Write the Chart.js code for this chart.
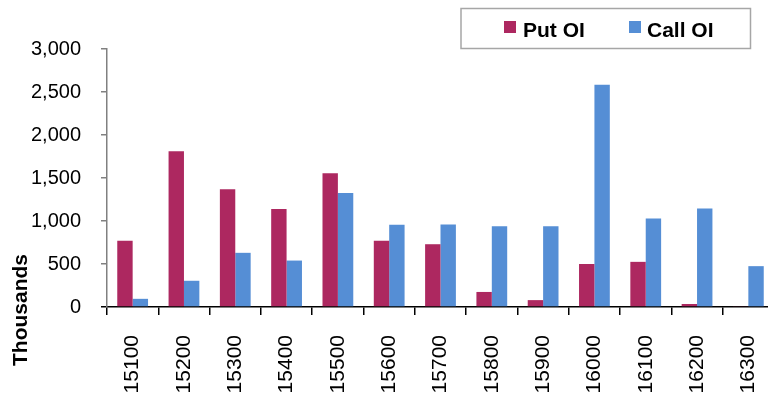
<!DOCTYPE html>
<html>
<head>
<meta charset="utf-8">
<script src="https://cdn.jsdelivr.net/npm/chart.js@4/dist/chart.umd.min.js"></script>
<style>
  html, body { margin: 0; padding: 0; background: #ffffff; overflow: hidden; }
  #wrap { width: 768px; height: 394px; overflow: hidden; position: relative; }
  canvas { display: block; }
</style>
</head>
<body>
<div id="wrap"><canvas id="oi" width="776" height="394"></canvas></div>
<script>
// Strike prices and open interest (thousands)
const strikes = ['15100', '15200', '15300', '15400', '15500', '15600', '15700',
                 '15800', '15900', '16000', '16100', '16200', '16300'];
const putOI  = [770, 1810, 1370, 1140, 1555, 770, 730, 175, 80, 500, 525, 35, 10];
const callOI = [95, 305, 630, 540, 1325, 955, 960, 940, 940, 2585, 1030, 1145, 475];
const seriesNames = ['Put OI', 'Call OI'];
const seriesColors = ['#AD2860', '#558ED5'];
const yAxisTitle = 'Thousands';

const FONT = '"Liberation Sans", Arial, sans-serif';

// Boxed legend in the top-right corner plus the rotated unit caption
const decorations = {
  id: 'decorations',
  afterDraw(chart) {
    const ctx = chart.ctx;
    ctx.save();
    // legend frame
    ctx.strokeStyle = '#A6A6A6';
    ctx.lineWidth = 1.5;
    ctx.strokeRect(461, 8.5, 289.5, 40);
    const items = [
      { sx: 504, tx: 523 },
      { sx: 629, tx: 647 }
    ];
    ctx.font = 'bold 21px ' + FONT;
    ctx.textBaseline = 'alphabetic';
    ctx.textAlign = 'left';
    chart.data.datasets.forEach((ds, i) => {
      ctx.fillStyle = ds.backgroundColor;
      ctx.fillRect(items[i].sx, 21, 12, 12);
      ctx.fillStyle = '#000000';
      ctx.fillText(ds.label, items[i].tx, 37);
    });
    // y unit caption
    ctx.translate(27, 310);
    ctx.rotate(-Math.PI / 2);
    ctx.textAlign = 'center';
    ctx.fillText(yAxisTitle, 0, 0);
    ctx.restore();
  }
};

new Chart(document.getElementById('oi'), {
  type: 'bar',
  data: {
    labels: strikes,
    datasets: [
      { label: seriesNames[0], data: putOI, backgroundColor: seriesColors[0] },
      { label: seriesNames[1], data: callOI, backgroundColor: seriesColors[1] }
    ]
  },
  options: {
    responsive: false,
    devicePixelRatio: 1,
    animation: false,
    layout: { padding: { top: 49, right: 2, left: 0, bottom: 0 } },
    datasets: { bar: { categoryPercentage: 0.6, barPercentage: 1.0 } },
    plugins: { legend: { display: false }, tooltip: { enabled: false } },
    scales: {
      x: {
        offset: true,
        grid: { offset: true, drawOnChartArea: false, drawTicks: true, tickLength: 8, color: '#000000', lineWidth: 1.5 },
        border: { color: '#000000', width: 1.5 },
        ticks: {
          minRotation: 90, maxRotation: 90, padding: 20, autoSkip: false,
          color: '#000000', font: { family: FONT, size: 21 }
        },
        afterFit(scale) {
          scale.height = 87;
          scale.paddingLeft = 0;
          scale.paddingRight = 0;
        }
      },
      y: {
        min: 0, max: 3000,
        ticks: {
          stepSize: 500, padding: 20, color: '#000000',
          font: { family: FONT, size: 20 },
          callback: (v) => Number(v).toLocaleString('en-US')
        },
        grid: {
          drawOnChartArea: false, drawTicks: true, tickLength: 6,
          color: (c) => (c.tick && c.tick.value === 0 ? '#000000' : '#808080'), lineWidth: 1.5
        },
        border: { color: '#808080', width: 1.5 },
        afterFit(scale) {
          scale.width = 107;
          scale.paddingTop = 0;
          scale.paddingBottom = 0;
        }
      }
    }
  },
  plugins: [decorations]
});
</script>
</body>
</html>
